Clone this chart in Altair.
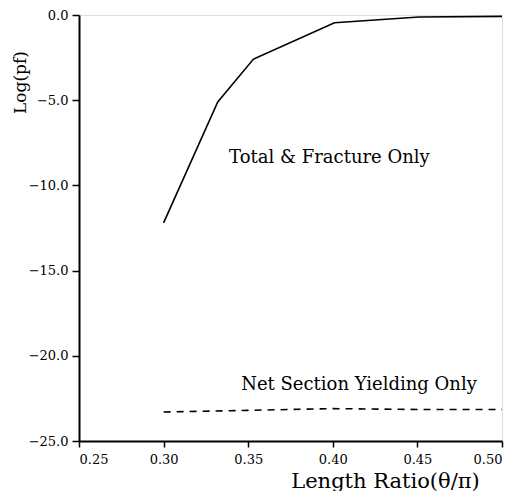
import altair as alt
import pandas as pd

# Total & Fracture Only
total_x = [0.30, 0.332, 0.353, 0.401, 0.451, 0.50]
total_y = [-12.2, -5.1, -2.6, -0.45, -0.12, -0.08]

# Net Section Yielding Only
net_x = [0.30, 0.35, 0.40, 0.45, 0.50]
net_y = [-23.3, -23.2, -23.1, -23.15, -23.15]

label_text = ["Total & Fracture Only", "Net Section Yielding Only"]
label_x = [0.398, 0.4155]
label_y = [-8.4, -21.7]

FONT = "DejaVu Serif"

df_total = pd.DataFrame({"x": total_x, "y": total_y})
df_net = pd.DataFrame({"x": net_x, "y": net_y})
df_lab = pd.DataFrame({"x": label_x, "y": label_y, "t": label_text})

xs = alt.Scale(domain=[0.25, 0.50], nice=False, zero=False)
ys = alt.Scale(domain=[-25, 0], nice=False, zero=False)

xax = alt.Axis(values=[0.25, 0.30, 0.35, 0.40, 0.45, 0.50], format=".2f",
               title="Length Ratio(θ/π)", grid=False, labelFont=FONT,
               labelFontSize=13, titleFont=FONT, titleFontSize=21,
               titleFontWeight="normal", labelColor="black", titleColor="black",
               domainColor="black", domainWidth=2, tickColor="black",
               tickSize=6, tickWidth=1.5, labelPadding=6,
               titleX=306, titleY=46, titleAlign="center",
               titleBaseline="alphabetic")
yax = alt.Axis(values=[0, -5, -10, -15, -20, -25], format=".1f",
               title="Log(pf)", grid=False, labelFont=FONT,
               labelFontSize=13, titleFont=FONT, titleFontSize=17,
               titleFontWeight="normal", labelColor="black", titleColor="black",
               domainColor="black", domainWidth=2, tickColor="black",
               tickSize=7, tickWidth=1.5, labelPadding=4,
               titleX=-59, titleY=67, titleAlign="center",
               titleBaseline="middle")

total = alt.Chart(df_total).mark_line(color="black", strokeWidth=1.6).encode(
    x=alt.X("x:Q", scale=xs, axis=xax),
    y=alt.Y("y:Q", scale=ys, axis=yax),
)
net = alt.Chart(df_net).mark_line(color="black", strokeWidth=1.6,
                                  strokeDash=[7, 6]).encode(
    x=alt.X("x:Q", scale=xs),
    y=alt.Y("y:Q", scale=ys),
)
labels = alt.Chart(df_lab).mark_text(font=FONT, fontSize=18, color="black",
                                     align="center", baseline="middle").encode(
    x=alt.X("x:Q", scale=xs),
    y=alt.Y("y:Q", scale=ys),
    text="t:N",
)

chart = (total + net + labels).properties(
    width=423, height=426,
    autosize=alt.AutoSizeParams(type="none"),
    padding={"left": 71, "top": 7, "right": 6, "bottom": 50},
).configure_view(stroke=None).configure(background="white")

chart.save("out.html", embed_options={"renderer": "svg", "actions": False})
